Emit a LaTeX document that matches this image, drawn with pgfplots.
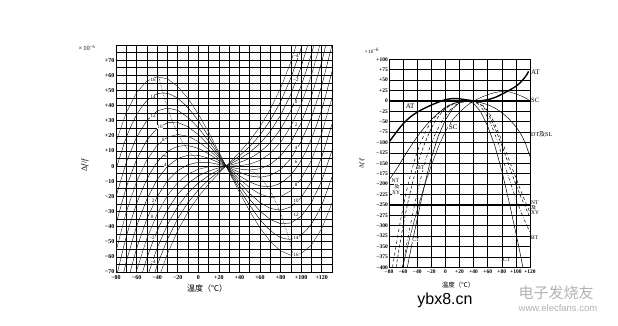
\documentclass[border=0pt]{standalone}
\usepackage{fontspec}
\setmainfont{Liberation Serif}
\newfontfamily\cjk{Noto Sans CJK SC}
\newfontfamily\sansw{Liberation Sans}
\usepackage{pgfplots}
\pgfplotsset{compat=1.18}
\begin{document}
\begin{tikzpicture}[x=1pt,y=1pt]
\useasboundingbox (0,0) rectangle (618,325);
% ---------------- LEFT CHART ----------------
\begin{axis}[at={(116pt,53pt)}, anchor=south west, scale only axis,
  width=216pt, height=227pt,
  xmin=-80, xmax=130, ymin=-70, ymax=80,
  xtick={-80,-60,...,120},
  xticklabels={−80,−60,−40,−20,0,+20,+40,+60,+80,+100,+120},
  minor xtick={-70,-50,...,130},
  ytick={-70,-60,...,70},
  yticklabels={−70,−60,−50,−40,−30,−20,−10,0,+10,+20,+30,+40,+50,+60,+70},
  minor ytick={-65,-55,...,75},
  grid=both,
  major grid style={black,line width=0.6pt},
  minor grid style={black,line width=0.6pt},
  major tick length=0pt, minor tick length=0pt,
  tick label style={font=\bfseries\fontsize{6}{7}\selectfont},
  yticklabel style={inner sep=1.5pt},
  axis line style={line width=0.9pt},
  clip mode=individual,
  cycle list={{black!85,no markers,line width=0.4pt,smooth}}]
\addplot coordinates {(-50,-100.0)(-40,-76.9)(-30,-58.0)(-20,-42.7)(-10,-30.3)(0,-20.3)(10,-12.0)(20,-4.8)(30,2.0)(40,9.0)(50,16.8)(60,26.1)(70,37.4)(80,51.5)(90,68.8)(100,90.2)};
\addplot coordinates {(-60,-113.3)(-50,-87.0)(-40,-65.6)(-30,-48.4)(-20,-34.7)(-10,-24.1)(0,-15.8)(10,-9.1)(20,-3.6)(30,1.5)(40,6.8)(50,12.9)(60,20.5)(70,30.2)(80,42.5)(90,58.2)(100,77.9)(110,102.1)};
\addplot coordinates {(-60,-98.6)(-50,-74.0)(-40,-54.2)(-30,-38.7)(-20,-26.8)(-10,-17.8)(0,-11.2)(10,-6.3)(20,-2.4)(30,1.0)(40,4.6)(50,9.1)(60,14.9)(70,22.9)(80,33.5)(90,47.5)(100,65.5)(110,88.1)};
\addplot coordinates {(-70,-112.2)(-60,-83.8)(-50,-61.0)(-40,-42.9)(-30,-29.1)(-20,-18.8)(-10,-11.6)(0,-6.6)(10,-3.4)(20,-1.2)(30,0.5)(40,2.4)(50,5.2)(60,9.4)(70,15.6)(80,24.6)(90,36.9)(100,53.2)(110,74.1)(120,100.2)};
\addplot coordinates {(-70,-95.8)(-60,-69.1)(-50,-47.9)(-40,-31.6)(-30,-19.5)(-20,-10.9)(-10,-5.3)(0,-2.1)(10,-0.5)(20,0.0)(30,0.0)(40,0.2)(50,1.3)(60,3.8)(70,8.4)(80,15.6)(90,26.3)(100,40.9)(110,60.0)(120,84.5)};
\addplot coordinates {(-80,-110.6)(-70,-79.4)(-60,-54.4)(-50,-34.9)(-40,-20.3)(-30,-9.8)(-20,-3.0)(-10,0.9)(0,2.5)(10,2.4)(20,1.1)(30,-0.5)(40,-2.0)(50,-2.6)(60,-1.8)(70,1.1)(80,6.7)(90,15.6)(100,28.5)(110,46.0)(120,68.7)(130,97.3)};
\addplot coordinates {(-80,-92.5)(-70,-63.0)(-60,-39.7)(-50,-21.9)(-40,-8.9)(-30,-0.2)(-20,5.0)(-10,7.2)(0,7.1)(10,5.2)(20,2.3)(30,-1.0)(40,-4.2)(50,-6.5)(60,-7.4)(70,-6.2)(80,-2.3)(90,5.0)(100,16.2)(110,32.0)(120,53.0)(130,79.9)};
\addplot coordinates {(-80,-74.4)(-70,-46.7)(-60,-25.0)(-50,-8.9)(-40,2.4)(-30,9.5)(-20,12.9)(-10,13.4)(0,11.6)(10,8.1)(20,3.5)(30,-1.5)(40,-6.4)(50,-10.4)(60,-13.0)(70,-13.5)(80,-11.2)(90,-5.7)(100,3.8)(110,18.0)(120,37.3)(130,62.5)};
\addplot coordinates {(-80,-56.3)(-70,-30.3)(-60,-10.3)(-50,4.1)(-40,13.7)(-30,19.1)(-20,20.9)(-10,19.7)(0,16.2)(10,11.0)(20,4.7)(30,-2.0)(40,-8.6)(50,-14.3)(60,-18.5)(70,-20.7)(80,-20.2)(90,-16.3)(100,-8.5)(110,3.9)(120,21.6)(130,45.1)};
\addplot coordinates {(-80,-38.2)(-70,-13.9)(-60,4.4)(-50,17.1)(-40,25.0)(-30,28.7)(-20,28.8)(-10,26.0)(0,20.8)(10,13.9)(20,5.9)(30,-2.5)(40,-10.8)(50,-18.2)(60,-24.1)(70,-28.0)(80,-29.2)(90,-27.0)(100,-20.8)(110,-10.1)(120,5.9)(130,27.7)};
\addplot coordinates {(-80,-20.1)(-70,2.5)(-60,19.1)(-50,30.1)(-40,36.4)(-30,38.4)(-20,36.8)(-10,32.2)(0,25.3)(10,16.7)(20,7.1)(30,-3.0)(40,-13.0)(50,-22.0)(60,-29.7)(70,-35.3)(80,-38.1)(90,-37.6)(100,-33.2)(110,-24.1)(120,-9.8)(130,10.3)};
\addplot coordinates {(-80,-2.1)(-70,18.9)(-60,33.8)(-50,43.2)(-40,47.7)(-30,48.0)(-20,44.7)(-10,38.5)(0,29.9)(10,19.6)(20,8.2)(30,-3.6)(40,-15.2)(50,-25.9)(60,-35.3)(70,-42.5)(80,-47.1)(90,-48.3)(100,-45.5)(110,-38.2)(120,-25.6)(130,-7.1)};
\addplot coordinates {(-80,16.0)(-70,35.3)(-60,48.5)(-50,56.2)(-40,59.0)(-30,57.6)(-20,52.6)(-10,44.7)(0,34.4)(10,22.5)(20,9.4)(30,-4.1)(40,-17.3)(50,-29.8)(60,-40.9)(70,-49.8)(80,-56.0)(90,-58.9)(100,-57.9)(110,-52.2)(120,-41.3)(130,-24.5)};
% turning-point loci
\addplot[black, smooth, densely dotted, line width=0.5pt] coordinates {(52,-3.3)(57,-5.7)(62,-9.0)(67,-13.4)(72,-19.1)(77,-26.3)(82,-34.9)(87,-45.4)(92.5,-59.0)};
\addplot[black, smooth, densely dotted, line width=0.5pt] coordinates {(2,3.3)(-3,5.7)(-8,9.0)(-13,13.4)(-18,19.1)(-23,26.3)(-28,34.9)(-33,45.4)(-38.5,59.0)};
% curve labels
\begin{scope}[every node/.style={font=\fontsize{5}{5}\selectfont, fill=white, inner sep=0.3pt}]
\node at (axis cs:-44,57) {16};
\node at (axis cs:-44,46) {14};
\node at (axis cs:-44,33) {12};
\node at (axis cs:-37,26) {10};
\node at (axis cs:-34,17) {8};
\node at (axis cs:-32,7) {6};
\node at (axis cs:-32,1) {4};
\node at (axis cs:-44,-23) {2};
\node at (axis cs:-45,-33.5) {0};
\node at (axis cs:-45,-47.5) {−2};
\node at (axis cs:-44,-63) {−4};
\node at (axis cs:95,72.6) {−4};
\node at (axis cs:95,57) {−2};
\node at (axis cs:95,42.5) {0};
\node at (axis cs:95,27) {2};
\node at (axis cs:95,12) {4};
\node at (axis cs:95,3) {6};
\node at (axis cs:95,-12.5) {8};
\node at (axis cs:95,-23) {10};
\node at (axis cs:95,-32.5) {12};
\node at (axis cs:95,-47.5) {14};
\node at (axis cs:95,-58.6) {16};
\end{scope}
\end{axis}
\node[font=\fontsize{6.5}{7}\selectfont] at (87,277) {×\,10\textsuperscript{−6}};
\node[rotate=90,font=\fontsize{8}{9}\selectfont] at (85,160) {Δ\textit{f}/\textit{f}};
\node[font=\cjk\fontsize{8}{9}\selectfont] at (207,37) {温度（℃）};
% ---------------- RIGHT CHART ----------------
\begin{axis}[at={(389pt,57.7pt)}, anchor=south west, scale only axis,
  width=141pt, height=208pt,
  xmin=-80, xmax=120, ymin=-400, ymax=100,
  xtick={-80,-60,...,120},
  xticklabels={−80,−60,−40,−20,0,+20,+40,+60,+80,+100,+120},
  ytick={-400,-375,...,100},
  yticklabels={−400,−375,−350,−325,−300,−275,−250,−225,−200,−175,−150,−125,−100,−75,−50,−25,0,+25,+50,+75,+100},
  grid=major,
  major grid style={black,line width=0.45pt},
  extra x ticks={40}, extra x tick labels={},
  extra y ticks={-250,-75,0}, extra y tick labels={},
  extra tick style={major grid style={black,line width=1.2pt}},
  major tick length=0pt,
  tick label style={font=\bfseries\fontsize{5.5}{6}\selectfont},
  xticklabel style={inner sep=1pt, yshift=-1.5pt},
  yticklabel style={inner sep=1pt},
  axis line style={line width=0.8pt},
  clip mode=individual,
  cycle list={{black,no markers,line width=0.5pt,smooth}}]
% AT
\addplot[black, smooth, line width=1.4pt] coordinates {(-80,-99)(-70,-76)(-60,-55)(-50,-39)(-40,-27)(-30,-18)(-20,-10)(-10,-3)(0,3)(10,5.5)(20,5)(30,2.5)(40,0.5)(50,0.5)(60,3)(70,8)(80,16)(90,25)(100,35)(105,42)(110,51)(115,62)(118,71)};
% SC
\addplot coordinates {(-60,-395)(-50,-325)(-40,-262)(-30,-205)(-20,-155)(-10,-110)(0,-73)(10,-46)(20,-27)(30,-12)(40,0)(50,8)(60,15)(70,20)(80,23)(90,22)(100,17)(110,10)(118,3)};
% DT & SL
\addplot coordinates {(-80,-190)(-70,-166)(-60,-138)(-50,-111)(-40,-86)(-30,-64)(-20,-45)(-10,-29)(0,-16)(10,-7)(20,-2)(30,0)(40,-1)(50,-4)(60,-9)(70,-17)(80,-28)(90,-43)(100,-62)(108,-82)(114,-104)(120,-134)};
% NT
\addplot[black, smooth, line width=0.5pt, dashed] coordinates {(-75,-400)(-65,-300)(-55,-215)(-45,-150)(-35,-100)(-20,-50)(0,-15)(20,-2)(35,0)(45,-3)(55,-14)(65,-38)(75,-75)(85,-118)(95,-163)(105,-207)(112,-237)(120,-268)};
% XY
\addplot[black, smooth, line width=0.5pt, densely dashed] coordinates {(-70,-400)(-60,-300)(-50,-220)(-40,-155)(-30,-105)(-20,-66)(-10,-38)(0,-19)(15,-5)(35,0)(45,-4)(55,-17)(65,-45)(75,-85)(85,-130)(95,-178)(105,-222)(112,-250)(120,-280)};
% BT
\addplot[black, smooth, line width=0.5pt, dash dot] coordinates {(-61,-400)(-50,-302)(-40,-222)(-28,-142)(-15,-82)(0,-36)(15,-9)(35,0)(45,-6)(55,-25)(65,-58)(75,-102)(82,-142)(90,-185)(100,-235)(110,-278)(120,-316)};
% CT
\addplot coordinates {(-54,-400)(-47,-340)(-40,-284)(-30,-206)(-21,-142)(-10,-84)(0,-46)(10,-19)(20,-4)(30,0)(40,-6)(50,-26)(60,-61)(70,-107)(80,-168)(90,-240)(100,-318)(105,-358)(110,-400)};
% labels inside
\node[font=\fontsize{7}{8}\selectfont, fill=white, inner sep=0.5pt] at (axis cs:-50,-13) {AT};
\node[font=\fontsize{7}{8}\selectfont, fill=white, inner sep=0.5pt] at (axis cs:11,-63) {SC};
\begin{scope}[every node/.style={font=\fontsize{5.5}{6}\selectfont, fill=white, inner sep=0.3pt}]
\node at (axis cs:-71,-193) {NT};
\node[font=\cjk\fontsize{5}{5}\selectfont] at (axis cs:-69,-206) {及};
\node at (axis cs:-70,-220) {XY};
\node at (axis cs:-35,-161) {BT};
\node at (axis cs:-42,-334) {CT};
\node at (axis cs:87,-382) {CT};
\end{scope}
% labels outside right
\node[anchor=west, font=\fontsize{7}{8}\selectfont, inner sep=1pt] at (axis cs:120,68) {AT};
\node[anchor=west, font=\fontsize{6.5}{7}\selectfont, inner sep=1pt] at (axis cs:120,1) {SC};
\node[anchor=west, font=\fontsize{6}{7}\selectfont, inner sep=1pt] at (axis cs:120,-81) {DT{\cjk 及}SL};
\node[anchor=west, font=\fontsize{5.5}{6}\selectfont, inner sep=1pt] at (axis cs:120,-244) {NT};
\node[anchor=west, font=\cjk\fontsize{5}{5}\selectfont, inner sep=1pt] at (axis cs:120,-256) {及};
\node[anchor=west, font=\fontsize{5.5}{6}\selectfont, inner sep=1pt] at (axis cs:120,-268) {XY};
\node[anchor=west, font=\fontsize{5.5}{6}\selectfont, inner sep=1pt] at (axis cs:120,-328) {BT};
\end{axis}
\node[font=\fontsize{5}{6}\selectfont] at (372,274) {×\,10\textsuperscript{−6}};
\node[rotate=90,font=\fontsize{6}{7}\selectfont] at (362,162) {Δ\textit{f}/\textit{f}};
\node[font=\cjk\fontsize{6.5}{7}\selectfont] at (458,40) {温度（℃）};
% watermarks
\node[font=\sansw\fontsize{16}{16}\selectfont] at (445,25) {ybx8.cn};
\node[font=\cjk\fontsize{15}{15}\selectfont, text=black!30] at (556,32) {电子发烧友};
\node[font=\sansw\fontsize{9.5}{10}\selectfont, text=black!30] at (558,17) {www.elecfans.com};
\end{tikzpicture}
\end{document}
